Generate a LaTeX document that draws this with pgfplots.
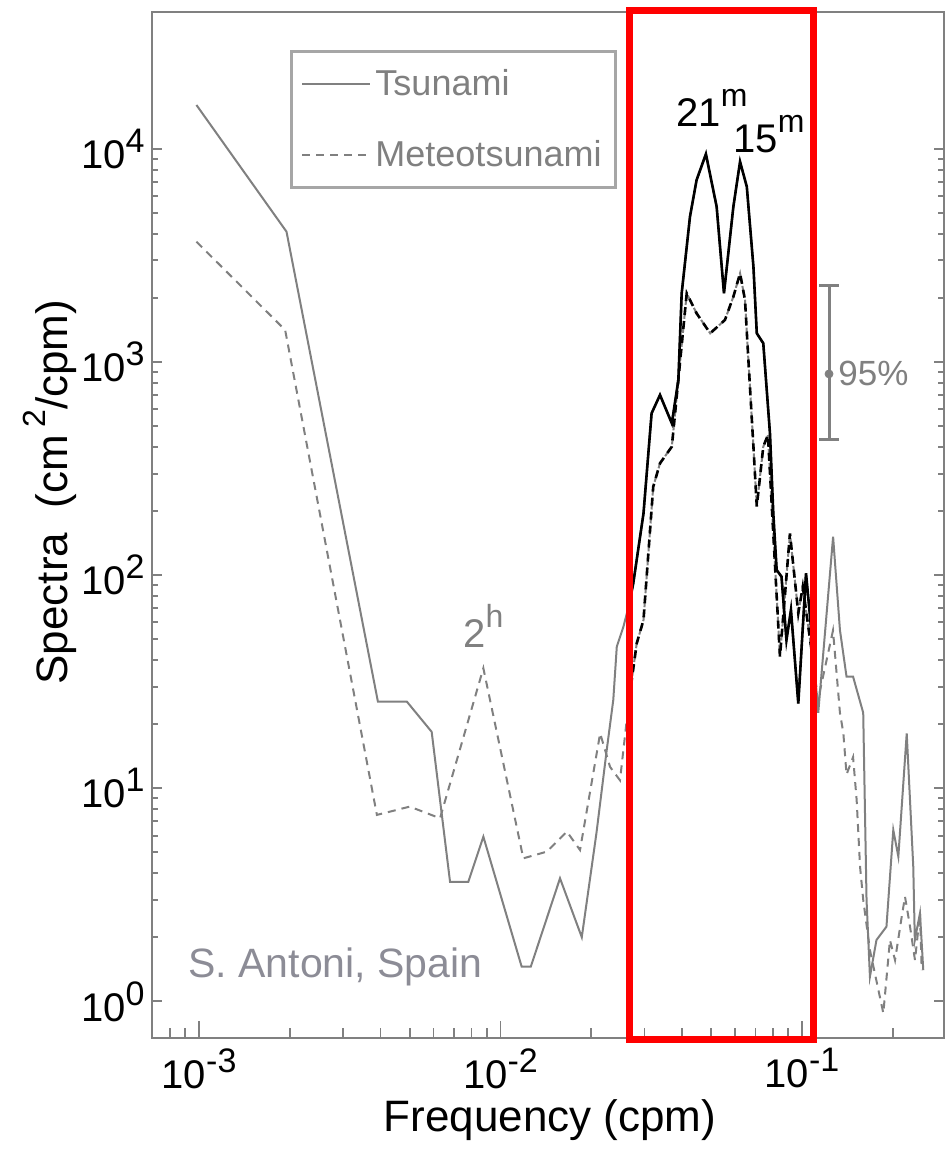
\documentclass[border=0pt]{standalone}
\usepackage{fontspec}
\setmainfont{Liberation Sans}
\usepackage{pgfplots}
\pgfplotsset{compat=1.18}
\definecolor{lgray}{RGB}{128,128,128}
\definecolor{tgray}{RGB}{140,140,150}
\newcommand\tl[1]{10\raisebox{0.4em}{\fontsize{17}{17}\selectfont #1}}
\newcommand\sups[1]{\raisebox{0.5em}{\fontsize{16}{16}\selectfont #1}}
\begin{document}
\begin{tikzpicture}
\path[use as bounding box] (-76pt,-56.5pt) rectangle (396.5pt,519pt);
\begin{axis}[
  at={(0pt,0pt)}, anchor=south west,
  scale only axis, width=396pt, height=513pt,
  xmode=log, ymode=log,
  xmin=6.98e-4, xmax=0.2958, ymin=0.673, ymax=43950,
  clip=false,
  axis line style={lgray, line width=1pt},
  xtick={1e-3,1e-2,1e-1},
  xticklabels={\tl{-3},\tl{-2},\tl{-1}},
  minor xtick={7e-4,8e-4,9e-4,2e-3,3e-3,4e-3,5e-3,6e-3,7e-3,8e-3,9e-3,2e-2,3e-2,4e-2,5e-2,6e-2,7e-2,8e-2,9e-2,2e-1},
  ytick={1,10,100,1000,10000},
  yticklabels={\tl{0},\tl{1},\tl{2},\tl{3},\tl{4}},
  minor ytick={},
  xtick pos=left,
  ytick pos=both,
  tick align=inside,
  xtick style={lgray, line width=0.8pt, /pgfplots/major tick length=8.5pt, /pgfplots/minor tick length=5pt},
  ytick style={lgray, line width=1pt, /pgfplots/major tick length=5pt},
  tick label style={font=\fontsize{20}{24}\selectfont, text=black},
  xticklabel style={inner sep=0pt, yshift=-5pt},
  yticklabel style={inner sep=0pt, xshift=-3.5pt},
  xlabel={Frequency (cpm)},
  ylabel={Spectra\ \ (cm\,\sups{2}/cpm)},
  label style={font=\fontsize{22}{26}\selectfont, text=black},
  xlabel style={at={(axis description cs:0.5025,0)}, anchor=center, yshift=-41pt},
  ylabel style={at={(axis description cs:-0.1288,0.532)}, anchor=center},
  legend style={at={(rel axis cs:0.1742,0.963)}, anchor=north west,
    draw=gray!70, line width=1.5pt, fill=white,
    font=\fontsize{18}{21}\selectfont, text=lgray,
    inner xsep=5pt, inner ysep=7pt, row sep=17pt},
  legend cell align=left,
  legend image code/.code={\draw[#1] (0pt,0pt) -- (34pt,0pt);},
]
% Tsunami (full, gray)
\addplot[lgray, line width=1pt] coordinates {
(0.00098,16090) (0.00195,4093) (0.00392,25.5) (0.00489,25.5) (0.00591,18.4)
(0.0068,3.64) (0.00782,3.64) (0.00877,5.93) (0.01175,1.455) (0.0126,1.455)
(0.01575,3.78) (0.0186,2.0) (0.0208,6.15) (0.0225,15.1) (0.02366,26.0)
(0.0243,46.2) (0.02556,57.3) (0.02668,72.5)
(0.02756,91.6) (0.0298,195) (0.0317,575) (0.0338,701) (0.037,516) (0.0389,824)
(0.0399,2103) (0.0425,4812) (0.0447,7152) (0.0480,9473) (0.0521,5360)
(0.0551,2103) (0.0592,5360) (0.0623,8717) (0.0656,6653) (0.0690,2804)
(0.0708,1365) (0.0744,1225) (0.0783,463) (0.0803,195) (0.0824,105.8)
(0.0855,98.4) (0.0888,49.6) (0.0919,68.7) (0.0972,25) (0.1031,102) (0.1088,45)
(0.1132,22.6) (0.1268,151.6) (0.1336,55.3) (0.1405,33.4) (0.1477,33.4)
(0.1596,22.6) (0.1637,2.99) (0.168,1.306) (0.1766,1.94) (0.1906,2.24)
(0.2008,6.37) (0.2087,4.78) (0.2225,18.1) (0.2339,4.29) (0.2367,1.94)
(0.2462,2.59) (0.2525,1.40)
};
\addlegendentry{Tsunami}
% Meteotsunami (full, gray dashed)
\addplot[lgray, line width=1pt, dash pattern=on 4pt off 3pt] coordinates {
(0.00098,3673) (0.00193,1415) (0.00389,7.5) (0.005,8.2) (0.0063,7.23)
(0.00877,36.6) (0.0119,4.69) (0.01423,5.04) (0.0166,6.26) (0.01835,5.13)
(0.0214,18.1) (0.02308,12.6) (0.0249,10.9) (0.02668,26)
(0.0283,47.9) (0.0298,61.6) (0.0321,260) (0.0338,335) (0.037,401)
(0.04146,2103) (0.0447,1694) (0.0496,1365) (0.0555,1576) (0.0592,2027)
(0.0623,2610) (0.0647,1956) (0.0666,951) (0.0690,401) (0.0708,210)
(0.0744,401) (0.0771,455) (0.0845,41.5) (0.0912,157) (0.0972,66.3)
(0.1006,88.3) (0.1088,39.5)
(0.1130,26) (0.1267,55) (0.1336,22.6) (0.1371,18.2) (0.1405,11.6)
(0.1477,14) (0.1518,8.8) (0.1558,4.28) (0.1596,3.0) (0.168,1.74)
(0.1861,0.88) (0.1958,1.94) (0.2035,1.56) (0.2142,2.5) (0.2196,3.1)
(0.2282,2.24) (0.2370,1.56) (0.2462,2.59) (0.2495,1.4)
};
\addlegendentry{Meteotsunami}
% black parts inside the highlighted band
\addplot[black, line width=1.3pt, forget plot] coordinates {
(0.02668,72.5)
(0.02756,91.6) (0.0298,195) (0.0317,575) (0.0338,701) (0.037,516) (0.0389,824)
(0.0399,2103) (0.0425,4812) (0.0447,7152) (0.0480,9473) (0.0521,5360)
(0.0551,2103) (0.0592,5360) (0.0623,8717) (0.0656,6653) (0.0690,2804)
(0.0708,1365) (0.0744,1225) (0.0783,463) (0.0803,195) (0.0824,105.8)
(0.0855,98.4) (0.0888,49.6) (0.0919,68.7) (0.0972,25) (0.1031,102) (0.1088,45)
};
\addplot[black, line width=1.3pt, dash pattern=on 4pt off 3pt, forget plot] coordinates {
(0.02668,26)
(0.0283,47.9) (0.0298,61.6) (0.0321,260) (0.0338,335) (0.037,401)
(0.04146,2103) (0.0447,1694) (0.0496,1365) (0.0555,1576) (0.0592,2027)
(0.0623,2610) (0.0647,1956) (0.0666,951) (0.0690,401) (0.0708,210)
(0.0744,401) (0.0771,455) (0.0845,41.5) (0.0912,157) (0.0972,66.3)
(0.1006,88.3) (0.1088,39.5)
};
% 95% confidence bar
\addplot[lgray, only marks, mark=*, mark size=2pt, forget plot,
  error bars/.cd, y dir=both, y explicit,
  error bar style={lgray, line width=1.5pt},
  error mark options={lgray, line width=1.5pt, mark size=5pt, rotate=90}]
  coordinates {(0.1229,880) += (0,1420) -= (0,449)};
% highlighted band
\draw[red, line width=3.5pt] (axis cs:0.02668,0.663) rectangle (axis cs:0.1088,44900);
\node[anchor=base west, inner sep=0pt, font=\fontsize{20}{24}\selectfont] at (axis cs:0.0382,12820) {21\sups{m}};
\node[anchor=base west, inner sep=0pt, font=\fontsize{20}{24}\selectfont] at (axis cs:0.0590,9680) {15\sups{m}};
\node[anchor=base west, inner sep=0pt, text=lgray, font=\fontsize{20}{24}\selectfont] at (axis cs:0.00751,46) {2\sups{h}};
\node[anchor=base west, inner sep=0pt, text=tgray, font=\fontsize{20.5}{24}\selectfont] at (axis cs:0.000919,1.288) {S. Antoni, Spain};
\node[anchor=west, inner sep=0pt, text=lgray, font=\fontsize{17.5}{21}\selectfont] at (axis cs:0.1316,880) {95\%};
\end{axis}
\end{tikzpicture}
\end{document}
